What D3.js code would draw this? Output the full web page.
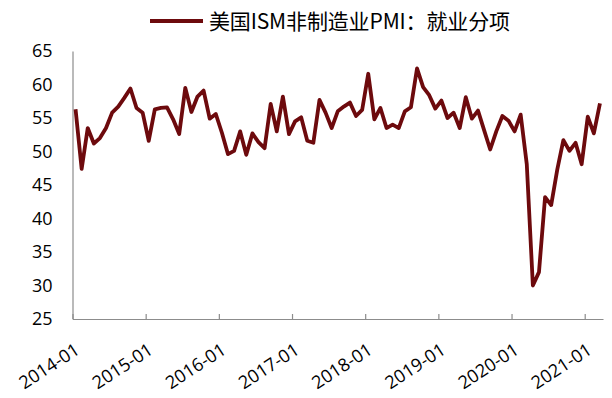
<!DOCTYPE html>
<html>
<head>
<meta charset="utf-8">
<script src="https://cdn.jsdelivr.net/npm/d3@7"></script>
<style>
  html, body { margin: 0; padding: 0; background: #fff; }
  svg { display: block; }
</style>
</head>
<body>
<svg id="chart" width="612" height="398"></svg>
<script>
const seriesName = "美国ISM非制造业PMI：就业分项";
const startYear = 2014;
const values = [
  56.3, 47.4, 53.5, 51.2, 52.0, 53.5, 55.8, 56.7, 58.0, 59.4, 56.5, 55.8,
  51.6, 56.3, 56.5, 56.6, 54.8, 52.6, 59.5, 55.9, 58.2, 59.1, 54.9, 55.6,
  52.8, 49.6, 50.1, 53.0, 49.5, 52.7, 51.4, 50.5, 57.1, 53.0, 58.2, 52.6,
  54.5, 55.1, 51.6, 51.3, 57.7, 55.8, 53.5, 56.0, 56.7, 57.3, 55.3, 56.2,
  61.6, 54.8, 56.5, 53.5, 54.0, 53.5, 56.0, 56.6, 62.4, 59.6, 58.4, 56.4,
  57.6, 55.0, 55.8, 53.5, 58.1, 54.9, 56.1, 53.2, 50.3, 53.0, 55.3, 54.6,
  53.0, 55.5, 48.1, 30.0, 32.0, 43.2, 42.0, 47.3, 51.7, 50.1, 51.3, 48.1,
  55.2, 52.7, 57.2
];
const months = values.map((v, i) => {
  const yr = startYear + Math.floor(i / 12);
  const m = (i % 12) + 1;
  return yr + "-" + String(m).padStart(2, "0");
});
const xTickLabels = ["2014-01","2015-01","2016-01","2017-01","2018-01","2019-01","2020-01","2021-01"];
const yTicks = [25, 30, 35, 40, 45, 50, 55, 60, 65];

const svg = d3.select("#chart");
const plotLeft = 72.5, plotRight = 603, plotTop = 51, plotBottom = 319;
const lineColor = "#6d0a0d";

const x = d3.scaleLinear().domain([0, values.length]).range([plotLeft, plotRight]);
const y = d3.scaleLinear().domain([25, 65]).range([plotBottom, plotTop]);

// Y axis
const yAxis = svg.append("g")
  .attr("transform", `translate(${plotLeft},0)`)
  .call(d3.axisLeft(y).tickValues(yTicks).tickSize(0).tickPadding(20));
yAxis.select(".domain").attr("stroke", "#8c8c8c").attr("stroke-width", 1.2);
yAxis.selectAll("text")
  .attr("font-family", "'Open Sans', 'Noto Sans', sans-serif")
  .attr("font-size", 18)
  .attr("fill", "#000");

// X axis
const tickIdx = xTickLabels.map((d, k) => k * 12);
const xAxis = svg.append("g")
  .attr("transform", `translate(0,${plotBottom})`)
  .call(d3.axisBottom(x).tickValues(tickIdx).tickSizeInner(-5).tickSizeOuter(0)
        .tickFormat((d, k) => xTickLabels[k]));
xAxis.select(".domain").attr("stroke", "#8c8c8c").attr("stroke-width", 1.2);
xAxis.selectAll(".tick line").attr("stroke", "#8c8c8c").attr("stroke-width", 1.2);
xAxis.selectAll("text")
  .attr("font-family", "'Open Sans', 'Noto Sans', sans-serif")
  .attr("font-size", 18)
  .attr("fill", "#000")
  .attr("text-anchor", "end")
  .attr("dy", "0")
  .attr("y", 0)
  .attr("transform", "translate(8,34) rotate(-33)");

// Line
const line = d3.line()
  .x((d, i) => x(i + 0.5))
  .y(d => y(d));
svg.append("path")
  .datum(values)
  .attr("fill", "none")
  .attr("stroke", lineColor)
  .attr("stroke-width", 3.8)
  .attr("stroke-linejoin", "round")
  .attr("d", line);

// Legend
const lg = svg.append("g");
lg.append("line")
  .attr("x1", 150).attr("x2", 203)
  .attr("y1", 21).attr("y2", 21)
  .attr("stroke", lineColor).attr("stroke-width", 4);
lg.append("text")
  .attr("x", 209).attr("y", 28.5)
  .attr("font-family", "'Noto Sans CJK SC', sans-serif")
  .attr("font-size", 21)
  .attr("textLength", 301)
  .attr("lengthAdjust", "spacing")
  .attr("fill", "#000")
  .text(seriesName);
</script>
</body>
</html>
